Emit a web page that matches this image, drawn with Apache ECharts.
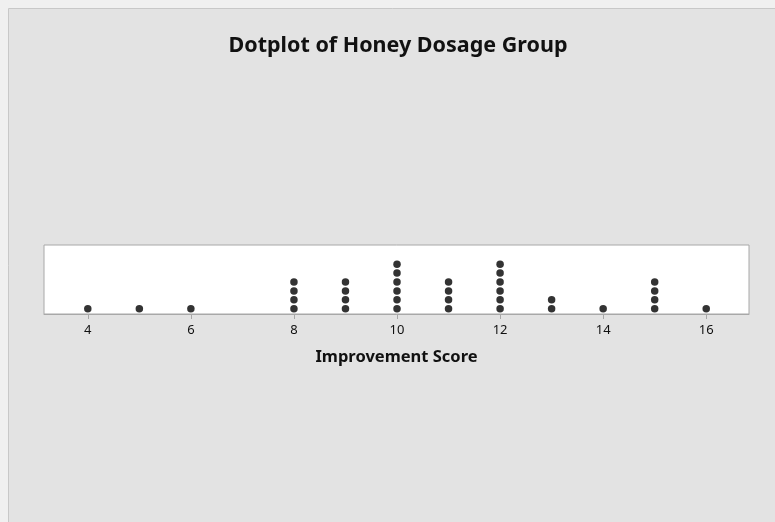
<!DOCTYPE html>
<html>
<head>
<meta charset="utf-8">
<script src="https://cdn.jsdelivr.net/npm/echarts@6/dist/echarts.min.js"></script>
<style>
html,body{margin:0;padding:0;background:#f0f0f0;}
#c{width:775px;height:522px;}
</style>
</head>
<body>
<div id="c"></div>
<script>
const scores = [4, 5, 6, 8, 9, 10, 11, 12, 13, 14, 15, 16];
const counts = [1, 1, 1, 4, 4, 6, 4, 6, 2, 1, 4, 1];
const tickValues = [4, 6, 8, 10, 12, 14, 16];

const points = [];
scores.forEach((s, i) => {
  for (let k = 1; k <= counts[i]; k++) points.push([s, k]);
});

const chart = echarts.init(document.getElementById('c'), null, {renderer: 'canvas'});
chart.setOption({
  backgroundColor: '#f0f0f0',
  animation: false,
  graphic: [{
    type: 'rect', z: -10, silent: true,
    shape: {x: 8.5, y: 8.5, width: 800, height: 600},
    style: {fill: '#e3e3e3', stroke: '#c8c8c8', lineWidth: 1}
  }],
  title: {
    text: 'Dotplot of Honey Dosage Group',
    left: 398, top: 35, textAlign: 'center', padding: 0,
    textStyle: {fontFamily: 'Noto Sans', fontWeight: 'bold', fontSize: 21.5, color: '#111'}
  },
  grid: {
    left: 44, right: 26, top: 245, bottom: 208,
    show: true, backgroundColor: '#ffffff', borderColor: '#a8a8a8', borderWidth: 1
  },
  xAxis: {
    type: 'value', min: 3.15, max: 16.83,
    name: 'Improvement Score', nameLocation: 'middle', nameGap: 35,
    nameTextStyle: {fontFamily: 'Noto Sans', fontWeight: 'bold', fontSize: 16.5, color: '#111'},
    axisLine: {show: true, lineStyle: {color: '#a8a8a8'}},
    axisTick: {show: true, length: 5, lineStyle: {color: '#a8a8a8'}, customValues: tickValues},
    axisLabel: {fontFamily: 'Noto Sans', fontSize: 13, color: '#111', margin: 10, customValues: tickValues},
    splitLine: {show: false}
  },
  yAxis: {
    type: 'value', min: 0.404, max: 8.157, show: false, splitLine: {show: false}
  },
  series: [{
    type: 'scatter', data: points, symbol: 'circle', symbolSize: 7.5,
    itemStyle: {color: '#000'}
  }]
});
</script>
</body>
</html>
